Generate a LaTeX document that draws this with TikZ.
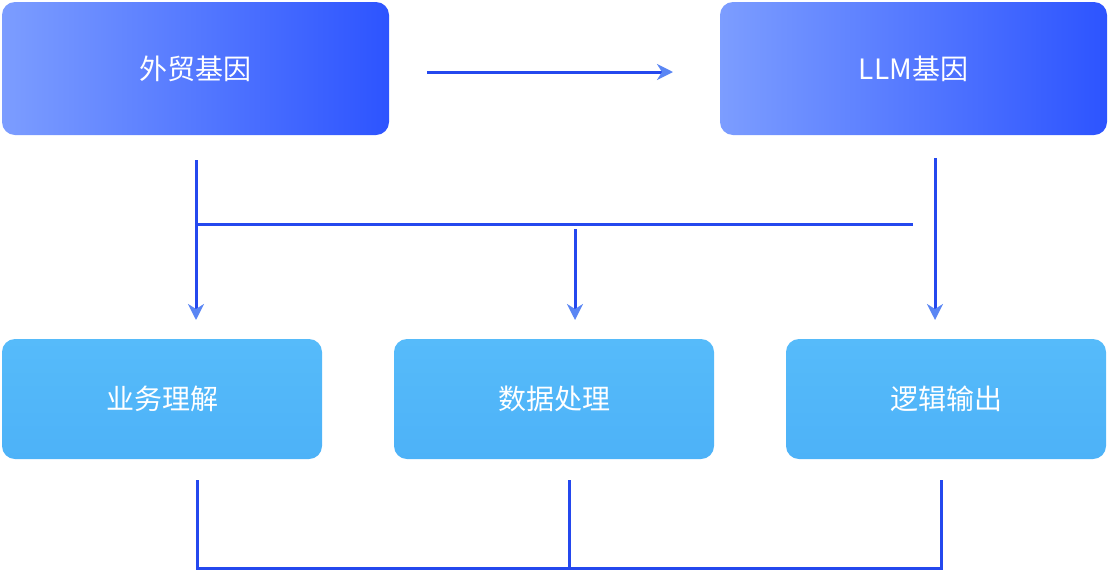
\documentclass[tikz,border=0pt]{standalone}
\usepackage{fontspec}
\setmainfont{Noto Sans CJK SC}
\usetikzlibrary{arrows.meta}
\definecolor{ln}{HTML}{2448EE}
\definecolor{ah}{HTML}{5A86F4}
\definecolor{tl}{HTML}{7C9DFF}
\definecolor{tr}{HTML}{2D54FF}
\definecolor{bt}{HTML}{56BBFA}
\definecolor{bb}{HTML}{4DB2F8}
\begin{document}
\begin{tikzpicture}[x=1pt,y=-1pt,
  top/.style={rounded corners=13pt,left color=tl,right color=tr,draw=none,minimum width=387pt,minimum height=133pt,text=white,font=\fontsize{28}{30}\selectfont},
  bot/.style={rounded corners=13pt,top color=bt,bottom color=bb,draw=none,minimum width=320pt,minimum height=120pt,text=white,font=\fontsize{28}{30}\selectfont},
  con/.style={ln,line width=3pt},
  arr/.style={con,-{Stealth[length=16pt,width=16pt,inset=5pt,color=ah]}}]
\useasboundingbox (0,0) rectangle (1110,571);
\node[top] (a) at (195.5,68.5) {外贸基因};
\node[top] (b) at (913.5,68.5) {LLM基因};
\node[bot] (c) at (162,399) {业务理解};
\node[bot] (d) at (554,399) {数据处理};
\node[bot] (e) at (946,399) {逻辑输出};
\coordinate (a1) at (427,72); \coordinate (b1) at (673,72);
\draw[arr] (a1) -- (b1);
\coordinate (l0) at (196,160); \coordinate (l1) at (196,320);
\coordinate (r0) at (935,158); \coordinate (r1) at (935,320);
\coordinate (h0) at (196,224); \coordinate (h1) at (913,224);
\coordinate (m0) at (575,229); \coordinate (m1) at (575,320);
\draw[arr] (l0) -- (l1);
\draw[arr] (r0) -- (r1);
\draw[con] (h0) -- (h1);
\draw[arr] (m0) -- (m1);
\coordinate (p0) at (197,480); \coordinate (p1) at (197,568);
\coordinate (q0) at (569,480); \coordinate (q1) at (569,568);
\coordinate (s0) at (941,480); \coordinate (s1) at (941,568);
\draw[con] (p0) -- (p1) -- (s1) -- (s0);
\draw[con] (q0) -- (q1);
\end{tikzpicture}
\end{document}
